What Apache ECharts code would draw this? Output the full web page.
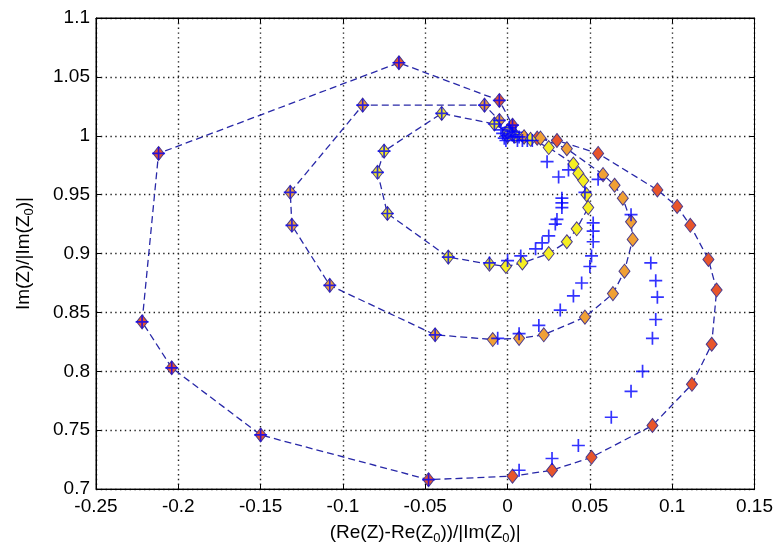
<!DOCTYPE html>
<html>
<head>
<meta charset="utf-8">
<script src="https://cdn.jsdelivr.net/npm/echarts@6/dist/echarts.min.js"></script>
<style>
  html, body { margin: 0; padding: 0; background: #ffffff; }
  #chart { width: 776px; height: 550px; }
</style>
</head>
<body>
<div id="chart"></div>
<script>
// Axis ticks
const xTicks = [-0.25, -0.2, -0.15, -0.1, -0.05, 0, 0.05, 0.1, 0.15];
const yTicks = [0.7, 0.75, 0.8, 0.85, 0.9, 0.95, 1, 1.05, 1.1];

// Computed impedance loops (diamonds joined by dashed line), ordered along each loop
const loopOuter = [
  [0.000, 1.000], [0.004, 1.000], [0.010, 0.999], [0.018, 0.998], [0.030, 0.996],
  [0.055, 0.985], [0.091, 0.954], [0.103, 0.940], [0.111, 0.924], [0.122, 0.895],
  [0.127, 0.869], [0.124, 0.823], [0.112, 0.789], [0.088, 0.754], [0.051, 0.727],
  [0.027, 0.716], [0.003, 0.711], [-0.048, 0.708], [-0.150, 0.746], [-0.204, 0.803],
  [-0.222, 0.842], [-0.212, 0.985], [-0.066, 1.062], [-0.005, 1.030], [0.003, 1.009],
  [0.001, 1.003]
];
const loopMiddle = [
  [0.000, 1.000], [0.004, 1.000], [0.010, 0.999], [0.020, 0.998], [0.036, 0.989],
  [0.058, 0.967], [0.065, 0.958], [0.070, 0.947], [0.075, 0.927], [0.076, 0.912],
  [0.071, 0.885], [0.064, 0.866], [0.047, 0.846], [0.022, 0.831], [0.007, 0.828],
  [-0.009, 0.827], [-0.044, 0.831], [-0.108, 0.873], [-0.131, 0.924], [-0.132, 0.952],
  [-0.088, 1.026], [-0.014, 1.026], [-0.005, 1.013], [0.000, 1.004]
];
const loopInner = [
  [0.000, 1.000], [0.005, 1.000], [0.014, 0.997], [0.025, 0.990], [0.040, 0.976],
  [0.043, 0.968], [0.046, 0.962], [0.048, 0.950], [0.049, 0.939], [0.042, 0.921],
  [0.036, 0.910], [0.025, 0.900], [0.009, 0.892], [-0.001, 0.889], [-0.011, 0.891],
  [-0.036, 0.897], [-0.073, 0.934], [-0.079, 0.969], [-0.075, 0.987], [-0.040, 1.019],
  [-0.008, 1.010], [0.000, 1.003]
];

// Measured points (plus markers)
const plusOuter = [
  [0.055, 0.963], [0.075, 0.933], [0.087, 0.892], [0.090, 0.877], [0.091, 0.863],
  [0.090, 0.844], [0.088, 0.828], [0.082, 0.800], [0.075, 0.783], [0.063, 0.761],
  [0.043, 0.737], [0.027, 0.726], [0.007, 0.716], [-0.048, 0.708], [-0.150, 0.746],
  [-0.204, 0.803], [-0.222, 0.842], [-0.212, 0.985], [-0.066, 1.062], [-0.005, 1.030],
  [0.003, 1.009]
];
const plusMiddle = [
  [0.037, 0.971], [0.047, 0.952], [0.052, 0.926], [0.052, 0.919], [0.052, 0.910],
  [0.051, 0.898], [0.050, 0.889], [0.045, 0.875], [0.040, 0.864], [0.032, 0.852],
  [0.019, 0.839], [0.007, 0.832], [-0.006, 0.828], [-0.044, 0.831], [-0.108, 0.873],
  [-0.131, 0.924], [-0.132, 0.952], [-0.088, 1.026], [-0.014, 1.026], [-0.005, 1.013]
];
const plusInner = [
  [0.024, 0.978], [0.031, 0.965], [0.033, 0.947], [0.033, 0.943], [0.033, 0.939],
  [0.030, 0.929], [0.029, 0.925], [0.025, 0.915], [0.021, 0.909], [0.017, 0.904],
  [0.008, 0.898], [0.000, 0.894], [-0.011, 0.892], [-0.036, 0.897], [-0.073, 0.934],
  [-0.079, 0.969], [-0.075, 0.987], [-0.040, 1.019], [-0.008, 1.010]
];
const plusCenter = [
  [0.000, 1.000], [0.002, 1.004], [-0.002, 0.998], [0.004, 0.999], [0.006, 0.996],
  [0.009, 0.996], [0.012, 0.996], [0.001, 1.007], [-0.003, 1.002], [0.003, 1.001],
  [-0.004, 1.005], [0.005, 1.003], [0.007, 0.999], [0.015, 0.996], [-0.001, 0.996]
];

const FONT = 'Liberation Sans, Arial, sans-serif';
const LINE_BLUE = '#2828a8';
const PLUS_BLUE = '#0000ff';
const EDGE = '#4a3a8c';
const PLUS_PATH = 'path://M6,0L6,12M0,6L12,6';

const chart = echarts.init(document.getElementById('chart'), null, { renderer: 'canvas' });

function loopSeries(name, data, fill) {
  return {
    name: name,
    type: 'line',
    data: data,
    symbol: 'diamond',
    symbolSize: [11, 14],
    showSymbol: true,
    lineStyle: { color: LINE_BLUE, width: 1.3, type: [7, 4] },
    itemStyle: { color: fill, borderColor: EDGE, borderWidth: 1 },
    z: 3,
    animation: false,
    silent: true
  };
}

function plusSeries(name, data) {
  return {
    name: name,
    type: 'scatter',
    data: data,
    symbol: PLUS_PATH,
    symbolSize: 13,
    itemStyle: { color: PLUS_BLUE, borderColor: PLUS_BLUE, borderWidth: 1.7 },
    z: 5,
    animation: false,
    silent: true
  };
}

const xStep = +(xTicks[1] - xTicks[0]).toFixed(4);
const yStep = +(yTicks[1] - yTicks[0]).toFixed(4);

const labelStyle = { color: '#000', fontFamily: FONT, fontSize: 19 };
const nameRich = {
  s: { fontSize: 13, fontFamily: FONT, color: '#000', verticalAlign: 'bottom', lineHeight: 14 }
};

const option = {
  backgroundColor: '#ffffff',
  animation: false,
  grid: {
    left: 96, right: 20, top: 18, bottom: 55,
    show: true, borderColor: '#000', borderWidth: 1, backgroundColor: '#ffffff'
  },
  xAxis: [
    {
      type: 'value',
      min: xTicks[0], max: xTicks[xTicks.length - 1], interval: xStep,
      name: '(Re(Z)-Re(Z{s|0}))/|Im(Z{s|0})|',
      nameLocation: 'middle', nameGap: 27,
      nameTextStyle: { color: '#000', fontFamily: FONT, fontSize: 19, lineHeight: 24, rich: nameRich },
      axisLine: { show: true, onZero: false, lineStyle: { color: '#000', width: 1 } },
      axisTick: { show: true, inside: true, length: 5, lineStyle: { color: '#000' } },
      axisLabel: Object.assign({ margin: 8 }, labelStyle),
      splitLine: { show: true, lineStyle: { color: '#222', width: 1.4, type: [1.4, 3.4] } }
    },
    {
      type: 'value', position: 'top',
      min: xTicks[0], max: xTicks[xTicks.length - 1], interval: xStep,
      axisLine: { show: true, onZero: false, lineStyle: { color: '#000', width: 1 } },
      axisTick: { show: true, inside: true, length: 5, lineStyle: { color: '#000' } },
      axisLabel: { show: false },
      splitLine: { show: false }
    }
  ],
  yAxis: [
    {
      type: 'value',
      min: yTicks[0], max: yTicks[yTicks.length - 1], interval: yStep,
      name: 'Im(Z)/|Im(Z{s|0})|',
      nameLocation: 'middle', nameGap: 60, nameRotate: 90,
      nameTextStyle: { color: '#000', fontFamily: FONT, fontSize: 19, lineHeight: 24, rich: nameRich },
      axisLine: { show: true, onZero: false, lineStyle: { color: '#000', width: 1 } },
      axisTick: { show: true, inside: true, length: 5, lineStyle: { color: '#000' } },
      axisLabel: Object.assign({ margin: 6 }, labelStyle),
      splitLine: { show: true, lineStyle: { color: '#222', width: 1.4, type: [1.4, 3.4] } }
    },
    {
      type: 'value', position: 'right',
      min: yTicks[0], max: yTicks[yTicks.length - 1], interval: yStep,
      axisLine: { show: true, onZero: false, lineStyle: { color: '#000', width: 1 } },
      axisTick: { show: true, inside: true, length: 5, lineStyle: { color: '#000' } },
      axisLabel: { show: false },
      splitLine: { show: false }
    }
  ],
  series: [
    loopSeries('outer', loopOuter, '#e8552b'),
    loopSeries('middle', loopMiddle, '#f0a035'),
    loopSeries('inner', loopInner, '#f5ee22'),
    plusSeries('plusOuter', plusOuter),
    plusSeries('plusMiddle', plusMiddle),
    plusSeries('plusInner', plusInner),
    plusSeries('plusCenter', plusCenter)
  ]
};

chart.setOption(option);
</script>
</body>
</html>
